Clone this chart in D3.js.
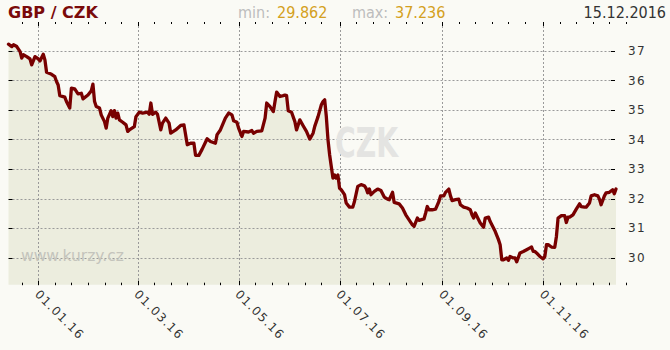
<!DOCTYPE html>
<html>
<head>
<meta charset="utf-8">
<script src="https://cdn.jsdelivr.net/npm/d3@7"></script>
<style>
  html, body { margin: 0; padding: 0; background: #fafaf5; }
  svg { display: block; }
  text { font-family: "DejaVu Sans", sans-serif; }
  .cond { font-family: "DejaVu Sans Condensed", "DejaVu Sans", sans-serif; font-stretch: condensed; }
</style>
</head>
<body>
<svg id="chart"></svg>
<script>
const dates = [
  '2015-12-14', '2015-12-16', '2015-12-17', '2015-12-19', '2015-12-21', '2015-12-22', '2015-12-23', '2015-12-25',
  '2015-12-27', '2015-12-28', '2015-12-30', '2016-01-01', '2016-01-02', '2016-01-04', '2016-01-05', '2016-01-06',
  '2016-01-09', '2016-01-11', '2016-01-12', '2016-01-13', '2016-01-14', '2016-01-17', '2016-01-18', '2016-01-20',
  '2016-01-21', '2016-01-23', '2016-01-25', '2016-01-27', '2016-01-28', '2016-01-31', '2016-02-02', '2016-02-03',
  '2016-02-04', '2016-02-05', '2016-02-07', '2016-02-08', '2016-02-10', '2016-02-11', '2016-02-12', '2016-02-14',
  '2016-02-15', '2016-02-16', '2016-02-17', '2016-02-18', '2016-02-19', '2016-02-21', '2016-02-23', '2016-02-24',
  '2016-02-25', '2016-02-28', '2016-02-29', '2016-03-02', '2016-03-04', '2016-03-07', '2016-03-08', '2016-03-09',
  '2016-03-10', '2016-03-12', '2016-03-13', '2016-03-15', '2016-03-16', '2016-03-18', '2016-03-20', '2016-03-21',
  '2016-03-24', '2016-03-27', '2016-03-29', '2016-03-30', '2016-03-31', '2016-04-02', '2016-04-04', '2016-04-05',
  '2016-04-07', '2016-04-09', '2016-04-12', '2016-04-14', '2016-04-17', '2016-04-18', '2016-04-20', '2016-04-23',
  '2016-04-25', '2016-04-27', '2016-04-28', '2016-04-30', '2016-05-01', '2016-05-03', '2016-05-04', '2016-05-07',
  '2016-05-09', '2016-05-10', '2016-05-12', '2016-05-15', '2016-05-17', '2016-05-18', '2016-05-20', '2016-05-22',
  '2016-05-23', '2016-05-24', '2016-05-26', '2016-05-28', '2016-05-29', '2016-05-30', '2016-05-31', '2016-06-02',
  '2016-06-04', '2016-06-05', '2016-06-07', '2016-06-09', '2016-06-11', '2016-06-13', '2016-06-15', '2016-06-16',
  '2016-06-18', '2016-06-20', '2016-06-21', '2016-06-22', '2016-06-23', '2016-06-24', '2016-06-25', '2016-06-26',
  '2016-06-27', '2016-06-28', '2016-06-29', '2016-06-30', '2016-07-01', '2016-07-02', '2016-07-04', '2016-07-05',
  '2016-07-07', '2016-07-09', '2016-07-10', '2016-07-12', '2016-07-14', '2016-07-16', '2016-07-17', '2016-07-18',
  '2016-07-19', '2016-07-20', '2016-07-22', '2016-07-24', '2016-07-26', '2016-07-28', '2016-07-30', '2016-07-31',
  '2016-08-02', '2016-08-03', '2016-08-06', '2016-08-08', '2016-08-10', '2016-08-12', '2016-08-14', '2016-08-15',
  '2016-08-17', '2016-08-18', '2016-08-21', '2016-08-22', '2016-08-23', '2016-08-24', '2016-08-26', '2016-08-28',
  '2016-08-30', '2016-08-31', '2016-09-02', '2016-09-03', '2016-09-05', '2016-09-06', '2016-09-07', '2016-09-09',
  '2016-09-11', '2016-09-12', '2016-09-14', '2016-09-16', '2016-09-18', '2016-09-19', '2016-09-20', '2016-09-21',
  '2016-09-23', '2016-09-24', '2016-09-26', '2016-09-27', '2016-09-29', '2016-09-30', '2016-10-02', '2016-10-03',
  '2016-10-05', '2016-10-06', '2016-10-07', '2016-10-08', '2016-10-10', '2016-10-11', '2016-10-12', '2016-10-14',
  '2016-10-15', '2016-10-16', '2016-10-18', '2016-10-20', '2016-10-22', '2016-10-24', '2016-10-25', '2016-10-26',
  '2016-10-27', '2016-10-28', '2016-10-30', '2016-11-01', '2016-11-02', '2016-11-03', '2016-11-04', '2016-11-06',
  '2016-11-08', '2016-11-09', '2016-11-10', '2016-11-12', '2016-11-14', '2016-11-15', '2016-11-16', '2016-11-17',
  '2016-11-19', '2016-11-21', '2016-11-23', '2016-11-24', '2016-11-26', '2016-11-27', '2016-11-29', '2016-11-30',
  '2016-12-02', '2016-12-04', '2016-12-05', '2016-12-06', '2016-12-08', '2016-12-09', '2016-12-11', '2016-12-13',
  '2016-12-14', '2016-12-15'
];
const rates = [
  37.22, 37.14, 37.20, 37.14, 36.97, 36.75, 36.86, 36.80,
  36.72, 36.52, 36.80, 36.72, 36.65, 36.88, 36.69, 36.27,
  36.20, 36.12, 35.96, 35.84, 35.48, 35.43, 35.28, 35.06,
  35.73, 35.71, 35.54, 35.56, 35.37, 35.50, 35.64, 35.87,
  35.28, 35.11, 35.06, 34.83, 34.60, 34.38, 34.72, 34.97,
  34.77, 34.97, 34.72, 34.89, 34.66, 34.58, 34.49, 34.27,
  34.32, 34.43, 34.77, 34.92, 34.89, 34.92, 34.85, 35.23,
  34.85, 34.92, 34.85, 34.32, 34.55, 34.72, 34.55, 34.21,
  34.32, 34.47, 34.49, 34.16, 33.82, 33.87, 33.87, 33.46,
  33.46, 33.67, 34.02, 33.93, 33.87, 34.16, 34.32, 34.72,
  34.89, 34.83, 34.63, 34.58, 34.38, 34.10, 34.27, 34.25,
  34.30, 34.21, 34.27, 34.29, 34.72, 35.23, 35.11, 34.94,
  35.28, 35.60, 35.45, 35.48, 35.50, 35.48, 34.97, 34.92,
  34.60, 34.32, 34.66, 34.46, 34.27, 34.01, 34.21, 34.44,
  34.77, 35.17, 35.28, 35.34, 34.77, 33.99, 33.48, 33.08,
  32.69, 32.80, 32.69, 32.80, 32.35, 32.30, 32.13, 31.85,
  31.71, 31.71, 31.90, 32.41, 32.47, 32.43, 32.35, 32.19,
  32.32, 32.13, 32.24, 32.32, 32.27, 32.05, 31.98, 31.96,
  32.21, 31.87, 31.82, 31.68, 31.45, 31.28, 31.11, 31.06,
  31.34, 31.26, 31.31, 31.51, 31.73, 31.62, 31.62, 31.64,
  31.90, 32.09, 32.09, 32.21, 32.32, 32.09, 31.93, 31.96,
  31.98, 31.79, 31.71, 31.68, 31.62, 31.45, 31.34, 31.51,
  31.28, 31.17, 31.03, 31.34, 31.37, 31.22, 31.00, 30.89,
  30.61, 30.44, 29.93, 29.93, 29.99, 29.91, 30.04, 29.99,
  29.99, 29.86, 30.16, 30.21, 30.27, 30.33, 30.36, 30.21,
  30.21, 30.16, 30.04, 29.96, 30.04, 30.44, 30.44, 30.36,
  30.35, 30.72, 31.34, 31.42, 31.42, 31.19, 31.37, 31.37,
  31.45, 31.64, 31.82, 31.73, 31.71, 31.71, 31.85, 32.09,
  32.13, 32.09, 31.98, 31.79, 32.09, 32.19, 32.21, 32.30,
  32.16, 32.32
];
const yTicks = [30, 31, 32, 33, 34, 35, 36, 37];
const xLabelDates = ['2016-01-01', '2016-03-01', '2016-05-01', '2016-07-01', '2016-09-01', '2016-11-01'];
const title = 'GBP / CZK';
const minValue = '29.862';
const maxValue = '37.236';
const lastDate = '15.12.2016';

const width = 670, height = 350;
const plot = { left: 8.5, right: 616, top: 22, bottom: 284.7 };

const parse = d3.timeParse('%Y-%m-%d');
const fmt = d3.timeFormat('%d.%m.%y');
const data = dates.map((d, i) => ({ date: parse(d), value: rates[i] }));

const x = d3.scaleTime()
    .domain([parse('2015-12-14'), parse('2016-12-15')])
    .range([plot.left, plot.right]);
const y = d3.scaleLinear()
    .domain([29.086, 37.97])
    .range([plot.bottom, plot.top]);

const majors = xLabelDates.map(parse);
// minor ticks every 10 days after each labelled month start (plus one before the first)
const minors = [d3.timeDay.offset(majors[0], -10)];
majors.forEach((m, i) => {
    const last = i === majors.length - 1 ? 5 : 5;
    for (let k = 1; k <= last; k++) minors.push(d3.timeDay.offset(m, k * 10));
});

const svg = d3.select('#chart')
    .attr('width', width)
    .attr('height', height);

svg.append('rect')
    .attr('width', width)
    .attr('height', height)
    .attr('fill', '#fafaf5');

const area = d3.area()
    .x(d => x(d.date))
    .y0(plot.bottom)
    .y1(d => y(d.value));
svg.append('path')
    .datum(data)
    .attr('fill', '#ecedde')
    .attr('d', area);

// grid
const grid = svg.append('g')
    .attr('stroke', '#9a9a9a')
    .attr('stroke-width', 1)
    .attr('stroke-dasharray', '2,2');
grid.selectAll('line.h')
    .data(yTicks)
    .join('line')
    .attr('class', 'h')
    .attr('x1', plot.left + 4)
    .attr('x2', plot.right - 5)
    .attr('y1', d => Math.round(y(d)) + 0.5)
    .attr('y2', d => Math.round(y(d)) + 0.5);
grid.selectAll('line.v')
    .data(majors)
    .join('line')
    .attr('class', 'v')
    .attr('x1', d => Math.round(x(d)) + 0.5)
    .attr('x2', d => Math.round(x(d)) + 0.5)
    .attr('y1', plot.top + 4)
    .attr('y2', plot.bottom - 3);

// watermarks
svg.append('text')
    .attr('x', 335)
    .attr('y', 157)
    .attr('font-size', 40)
    .attr('font-weight', 'bold')
    .attr('fill', '#e4e4e2')
    .attr('textLength', 63)
    .attr('lengthAdjust', 'spacingAndGlyphs')
    .text('CZK');
svg.append('text')
    .attr('x', 21)
    .attr('y', 260.7)
    .attr('font-size', 15.5)
    .attr('fill', '#c4c4bc')
    .text('www.kurzy.cz');

const line = d3.line()
    .x(d => x(d.date))
    .y(d => y(d.value));
svg.append('path')
    .datum(data)
    .attr('fill', 'none')
    .attr('stroke', '#780000')
    .attr('stroke-width', 3.3)
    .attr('stroke-linejoin', 'round')
    .attr('stroke-linecap', 'round')
    .attr('d', line);

// tick marks
const ticks = svg.append('g').attr('stroke', '#000').attr('stroke-width', 1);
yTicks.forEach(v => {
    const yy = Math.round(y(v)) + 0.5;
    ticks.append('line').attr('x1', plot.left).attr('x2', plot.left + 4).attr('y1', yy).attr('y2', yy);
    ticks.append('line').attr('x1', plot.right - 5).attr('x2', plot.right - 1).attr('y1', yy).attr('y2', yy);
});
majors.forEach(t => {
    const xx = Math.round(x(t)) + 0.5;
    ticks.append('line').attr('x1', xx).attr('x2', xx).attr('y1', plot.top).attr('y2', plot.top + 4);
    ticks.append('line').attr('x1', xx).attr('x2', xx).attr('y1', plot.bottom - 4).attr('y2', plot.bottom + 0.5);
});
minors.forEach(t => {
    const xx = Math.round(x(t)) + 0.5;
    ticks.append('line').attr('x1', xx).attr('x2', xx).attr('y1', plot.top).attr('y2', plot.top + 2);
    ticks.append('line').attr('x1', xx).attr('x2', xx).attr('y1', plot.bottom - 2).attr('y2', plot.bottom + 0.5);
});

// y labels on the right
svg.append('g')
    .selectAll('text')
    .data(yTicks)
    .join('text')
    .attr('x', 628)
    .attr('y', d => y(d))
    .attr('dy', '0.36em')
    .attr('font-size', 12)
    .attr('letter-spacing', 1.3)
    .attr('fill', '#333')
    .text(d => d);

// rotated date labels
svg.append('g')
    .selectAll('text')
    .data(majors)
    .join('text')
    .attr('transform', d => `translate(${x(d) - 1},${292}) rotate(45)`)
    .attr('dy', '0.36em')
    .attr('font-size', 12)
    .attr('letter-spacing', 1.3)
    .attr('fill', '#333')
    .text(d => fmt(d));

// header
svg.append('text')
    .attr('x', 8)
    .attr('y', 17.5)
    .attr('font-size', 16)
    .attr('font-weight', 'bold')
    .attr('fill', '#7a0a0a')
    .text(title);
const header = [
    { x: 238, text: 'min:', fill: '#bdbdbd' },
    { x: 277, text: minValue, fill: '#d4a020' },
    { x: 352, text: 'max:', fill: '#bdbdbd' },
    { x: 395, text: maxValue, fill: '#d4a020' }
];
svg.append('g')
    .selectAll('text')
    .data(header)
    .join('text')
    .attr('class', 'cond')
    .attr('x', d => d.x)
    .attr('y', 17.5)
    .attr('font-size', 16)
    .attr('fill', d => d.fill)
    .text(d => d.text);
svg.append('text')
    .attr('class', 'cond')
    .attr('x', 666)
    .attr('y', 17.5)
    .attr('text-anchor', 'end')
    .attr('font-size', 16)
    .attr('fill', '#333')
    .text(lastDate);
</script>
</body>
</html>
